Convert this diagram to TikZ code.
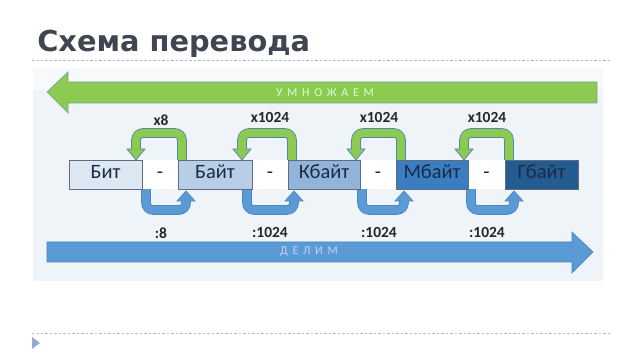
\documentclass[tikz,border=0pt]{standalone}
\usepackage{fontspec}
\setmainfont{Carlito}
\newfontfamily\titlefont{DejaVu Sans}
\usetikzlibrary{calc}
\definecolor{titlecol}{HTML}{404552}
\definecolor{panelbg}{HTML}{EFF4F8}
\definecolor{dotcol}{HTML}{A9BCD0}
\definecolor{greenfill}{HTML}{8DCB50}
\definecolor{greenline}{HTML}{6FA6A0}
\definecolor{bluefill}{HTML}{5B9BD5}
\definecolor{blueline}{HTML}{4A82BE}
\definecolor{loopline}{HTML}{4F86C0}
\definecolor{boxline}{HTML}{5E6E80}
\definecolor{cbit}{HTML}{DCE7F2}
\definecolor{cbayt}{HTML}{B8CEE6}
\definecolor{ckb}{HTML}{93B4DA}
\definecolor{cmb}{HTML}{3A7DC0}
\definecolor{cgb}{HTML}{245B90}
\definecolor{txtdark}{HTML}{1B2B45}
\tikzset{
  x=0.025cm, y=-0.025cm,
  unitbox/.style={draw=boxline, line width=0.6pt, minimum height=0.725cm, inner sep=0pt,
     text height=0.66em, text depth=0.12em,
     font=\fontsize{14.5}{14.5}\selectfont, text=txtdark},
  gapnode/.style={fill=white, minimum height=0.725cm, inner sep=0pt,
     text height=0.66em, text depth=0.12em,
     font=\fontsize{14.5}{14.5}\selectfont, text=txtdark},
  mullabel/.style={font=\fontsize{11}{11}\selectfont\bfseries, text=black!85},
  bigtext/.style={font=\fontsize{8.5}{8.5}\selectfont\addfontfeature{LetterSpace=40}},
}
% upper loop: #1 = left leg x, #2 = right leg x
\newcommand\uploop[2]{%
  \draw[loopline, line width=6.8pt, rounded corners=5] (#2,161) -- (#2,133) -- (#1,133) -- (#1,150);
  \filldraw[fill=greenfill, draw=loopline, line width=0.5pt] (#1-9,149) -- (#1+9,149) -- (#1,160) -- cycle;
  \draw[greenfill, line width=5.6pt, rounded corners=5] (#2,161) -- (#2,133) -- (#1,133) -- (#1,149.6);
}
\newcommand\downloop[2]{%
  \draw[loopline, line width=6.8pt, rounded corners=5] (#1,188) -- (#1,210) -- (#2,210) -- (#2,200);
  \filldraw[fill=bluefill, draw=loopline, line width=0.5pt] (#2-9,201) -- (#2+9,201) -- (#2,191) -- cycle;
  \draw[bluefill, line width=5.6pt, rounded corners=5] (#1,188) -- (#1,210) -- (#2,210) -- (#2,200.4);
}
\begin{document}
\begin{tikzpicture}
\useasboundingbox[fill=white] (0,0) rectangle (640,360);
% title
\node[anchor=base west, inner sep=0pt, text=titlecol, font=\titlefont\bfseries\fontsize{20.5}{20.5}\selectfont] (title) at (37,52) {Схема перевода};
\draw[dotcol, line width=0.7pt, dash pattern=on 1.6pt off 1.6pt] (32,60) -- (610,60);
\draw[dotcol, line width=0.7pt, dash pattern=on 1.6pt off 1.6pt] (32,333) -- (610,333);
\fill[dotcol!90!blue] (32,337) -- (40,343) -- (32,349) -- cycle;
% panel
\fill[panelbg] (33,68) rectangle (603,281);
\fill[white, opacity=0.5] (33,68) rectangle (603,90);
% big arrows
\filldraw[fill=greenfill, draw=greenline, line width=0.5pt] (47,92) -- (68,72) -- (68,82) -- (597,82) -- (597,103) -- (68,103) -- (68,113) -- cycle;
\node[bigtext, text=white!85!green] (mult) at (325,92.5) {УМНОЖАЕМ};
\filldraw[fill=bluefill, draw=blueline, line width=0.4pt] (47,242) -- (572,242) -- (572,232) -- (593,252) -- (572,273) -- (572,262) -- (47,262) -- cycle;
\node[bigtext, text=white!80!blue] (div) at (309,252) {ДЕЛИМ};
% loops
\uploop{136}{182}
\uploop{242}{292}
\uploop{356}{401}
\uploop{464}{509}
\downloop{146}{186}
\downloop{247}{294}
\downloop{362}{404}
\downloop{471}{514}
% gaps
\node[gapnode, minimum width=0.9cm] (g1) at (160,174.5) {-};
\node[gapnode, minimum width=0.9cm] (g2) at (270,174.5) {-};
\node[gapnode, minimum width=0.9cm] (g3) at (378,174.5) {-};
\node[gapnode, minimum width=0.925cm] (g4) at (486.5,174.5) {-};
% boxes
\node[unitbox, fill=cbit, minimum width=1.825cm] (bit) at (105.5,174.5) {Бит};
\node[unitbox, fill=cbayt, minimum width=1.85cm] (bayt) at (215,174.5) {Байт};
\node[unitbox, fill=ckb, minimum width=1.8cm] (kb) at (324,174.5) {Кбайт};
\node[unitbox, fill=cmb, minimum width=1.8cm] (mb) at (432,174.5) {Мбайт};
\node[unitbox, fill=cgb, minimum width=1.825cm] (gb) at (541.5,174.5) {Гбайт};
% labels
\node[mullabel] (m1) at (161,120) {x8};
\node[mullabel] (m2) at (270,117) {x1024};
\node[mullabel] (m3) at (379,117) {x1024};
\node[mullabel] (m4) at (487,117) {x1024};
\node[mullabel] (d1) at (161,233) {:8};
\node[mullabel] (d2) at (270,232) {:1024};
\node[mullabel] (d3) at (379,232) {:1024};
\node[mullabel] (d4) at (487,232) {:1024};
\end{tikzpicture}
\end{document}
